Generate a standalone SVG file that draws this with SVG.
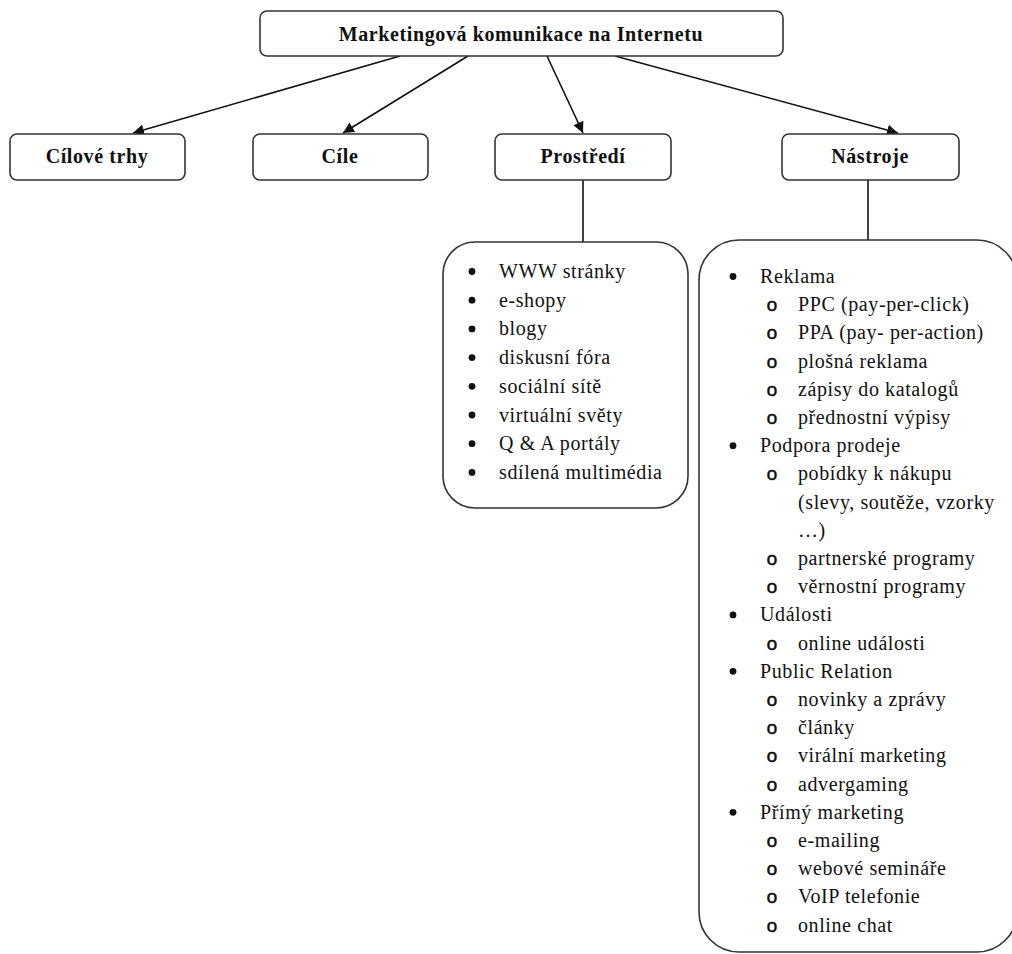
<svg xmlns="http://www.w3.org/2000/svg" width="1012" height="954" viewBox="0 0 1012 954">
<style>
.box{fill:#fff;stroke:#333;stroke-width:1.6}
.hdr{font-family:"Liberation Serif",serif;font-weight:bold;font-size:20px;letter-spacing:0.6px;fill:#111;text-anchor:middle}
.itm{font-family:"Liberation Serif",serif;font-size:20px;letter-spacing:0.6px;fill:#111}
.sub{font-family:"Liberation Mono",monospace;font-size:19px;fill:#111;stroke:#111;stroke-width:0.5;text-anchor:middle}
.dot{fill:#111}
.con{stroke:#111;stroke-width:1.6;fill:none}
</style>
<defs>
<marker id="ah" viewBox="0 0 10 10" refX="10" refY="5" markerWidth="11" markerHeight="11" markerUnits="userSpaceOnUse" orient="auto">
<path d="M0,0 L10,5 L0,10 z" fill="#111"/>
</marker>
</defs>
<g id="connectors">
<line class="con" x1="400" y1="56" x2="133" y2="133" marker-end="url(#ah)"/>
<line class="con" x1="468" y1="56" x2="343" y2="133" marker-end="url(#ah)"/>
<line class="con" x1="547" y1="56" x2="583" y2="133" marker-end="url(#ah)"/>
<line class="con" x1="615" y1="56" x2="898" y2="133" marker-end="url(#ah)"/>
<line class="con" x1="583" y1="180" x2="583" y2="242"/>
<line class="con" x1="868" y1="180" x2="868" y2="240"/>
</g>
<g id="root">
<rect class="box" x="260" y="11" width="523" height="45" rx="7"/>
<text class="hdr" x="521" y="41">Marketingová komunikace na Internetu</text>
</g>
<g id="cilove-trhy">
<rect class="box" x="10" y="134" width="175" height="46" rx="7"/>
<text class="hdr" x="97" y="163">Cílové trhy</text>
</g>
<g id="cile">
<rect class="box" x="253" y="134" width="175" height="46" rx="7"/>
<text class="hdr" x="340" y="163">Cíle</text>
</g>
<g id="prostredi">
<rect class="box" x="495" y="134" width="176" height="46" rx="7"/>
<text class="hdr" x="583" y="163">Prostředí</text>
</g>
<g id="nastroje">
<rect class="box" x="782" y="134" width="177" height="46" rx="7"/>
<text class="hdr" x="870" y="163">Nástroje</text>
</g>
<g id="prostredi-list">
<rect class="box" x="443" y="242" width="245" height="266" rx="32"/>
<g class="dot">
<circle cx="472" cy="271.5" r="3.4"/>
<circle cx="472" cy="300.2" r="3.4"/>
<circle cx="472" cy="328.9" r="3.4"/>
<circle cx="472" cy="357.6" r="3.4"/>
<circle cx="472" cy="386.3" r="3.4"/>
<circle cx="472" cy="415" r="3.4"/>
<circle cx="472" cy="443.7" r="3.4"/>
<circle cx="472" cy="472.4" r="3.4"/>
</g>
<g class="itm">
<text x="499" y="278">WWW stránky</text>
<text x="499" y="306.7">e-shopy</text>
<text x="499" y="335.4">blogy</text>
<text x="499" y="364.1">diskusní fóra</text>
<text x="499" y="392.8">sociální sítě</text>
<text x="499" y="421.5">virtuální světy</text>
<text x="499" y="450.2">Q &amp; A portály</text>
<text x="499" y="478.9">sdílená multimédia</text>
</g>
</g>
<g id="nastroje-list">
<rect class="box" x="699" y="240" width="318" height="712" rx="40"/>
<g class="dot">
<circle cx="733" cy="276.5" r="3.4"/>
<circle cx="733" cy="445.7" r="3.4"/>
<circle cx="733" cy="614.9" r="3.4"/>
<circle cx="733" cy="671.3" r="3.4"/>
<circle cx="733" cy="812.3" r="3.4"/>
</g>
<g class="itm">
<text x="760" y="283">Reklama</text>
<text x="798" y="311.2">PPC (pay-per-click)</text>
<text x="798" y="339.4">PPA (pay- per-action)</text>
<text x="798" y="367.6">plošná reklama</text>
<text x="798" y="395.8">zápisy do katalogů</text>
<text x="798" y="424">přednostní výpisy</text>
<text x="760" y="452.2">Podpora prodeje</text>
<text x="798" y="480.4">pobídky k nákupu</text>
<text x="798" y="508.6">(slevy, soutěže, vzorky</text>
<text x="798" y="536.8">…)</text>
<text x="798" y="565">partnerské programy</text>
<text x="798" y="593.2">věrnostní programy</text>
<text x="760" y="621.4">Události</text>
<text x="798" y="649.6">online události</text>
<text x="760" y="677.8">Public Relation</text>
<text x="798" y="706">novinky a zprávy</text>
<text x="798" y="734.2">články</text>
<text x="798" y="762.4">virální marketing</text>
<text x="798" y="790.6">advergaming</text>
<text x="760" y="818.8">Přímý marketing</text>
<text x="798" y="847">e-mailing</text>
<text x="798" y="875.2">webové semináře</text>
<text x="798" y="903.4">VoIP telefonie</text>
<text x="798" y="931.6">online chat</text>
</g>
<g class="sub">
<text x="772" y="311.2">o</text>
<text x="772" y="339.4">o</text>
<text x="772" y="367.6">o</text>
<text x="772" y="395.8">o</text>
<text x="772" y="424">o</text>
<text x="772" y="480.4">o</text>
<text x="772" y="565">o</text>
<text x="772" y="593.2">o</text>
<text x="772" y="649.6">o</text>
<text x="772" y="706">o</text>
<text x="772" y="734.2">o</text>
<text x="772" y="762.4">o</text>
<text x="772" y="790.6">o</text>
<text x="772" y="847">o</text>
<text x="772" y="875.2">o</text>
<text x="772" y="903.4">o</text>
<text x="772" y="931.6">o</text>
</g>
</g>
</svg>
